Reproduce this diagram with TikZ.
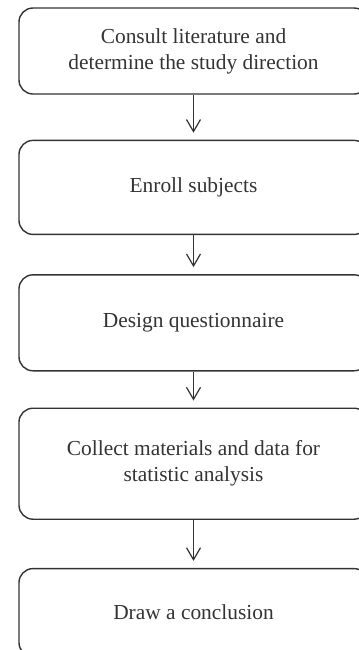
\documentclass[tikz,border=0pt]{standalone}
\usepackage{fontspec}
\setmainfont{Liberation Serif}
\usepackage{tikz}
\usetikzlibrary{positioning, arrows.meta}
\definecolor{boxline}{HTML}{333333}
\tikzstyle{stepbox} = [rectangle, rounded corners=7pt, minimum width=174.5pt, align=center, draw=boxline, line width=0.7pt, text=boxline, font=\fontsize{10.7}{13}\selectfont, inner sep=0pt]
\tikzstyle{arrow} = [line width=0.6pt, draw=boxline, -{Straight Barb[length=6pt,width=7pt]}, shorten >=3.5pt]

\begin{document}
\begin{tikzpicture}
\useasboundingbox (0,0) rectangle (179.5pt,-325pt);
\clip (0,0) rectangle (179.5pt,-325pt);

\node (step1) [stepbox, minimum height=43pt] at (96.75pt,-25.5pt) {Consult literature and\\determine the study direction};
\node (step2) [stepbox, minimum height=47pt, below=22.5pt of step1] {Enroll subjects};
\node (step3) [stepbox, minimum height=48pt, below=19.5pt of step2] {Design questionnaire};
\node (step4) [stepbox, minimum height=55.5pt, below=18pt of step3] {Collect materials and data for\\statistic analysis};
\node (step5) [stepbox, minimum height=44pt, below=24pt of step4] {Draw a conclusion};

\draw [arrow] (step1) -- (step2);
\draw [arrow] (step2) -- (step3);
\draw [arrow] (step3) -- (step4);
\draw [arrow] (step4) -- (step5);
\end{tikzpicture}
\end{document}
